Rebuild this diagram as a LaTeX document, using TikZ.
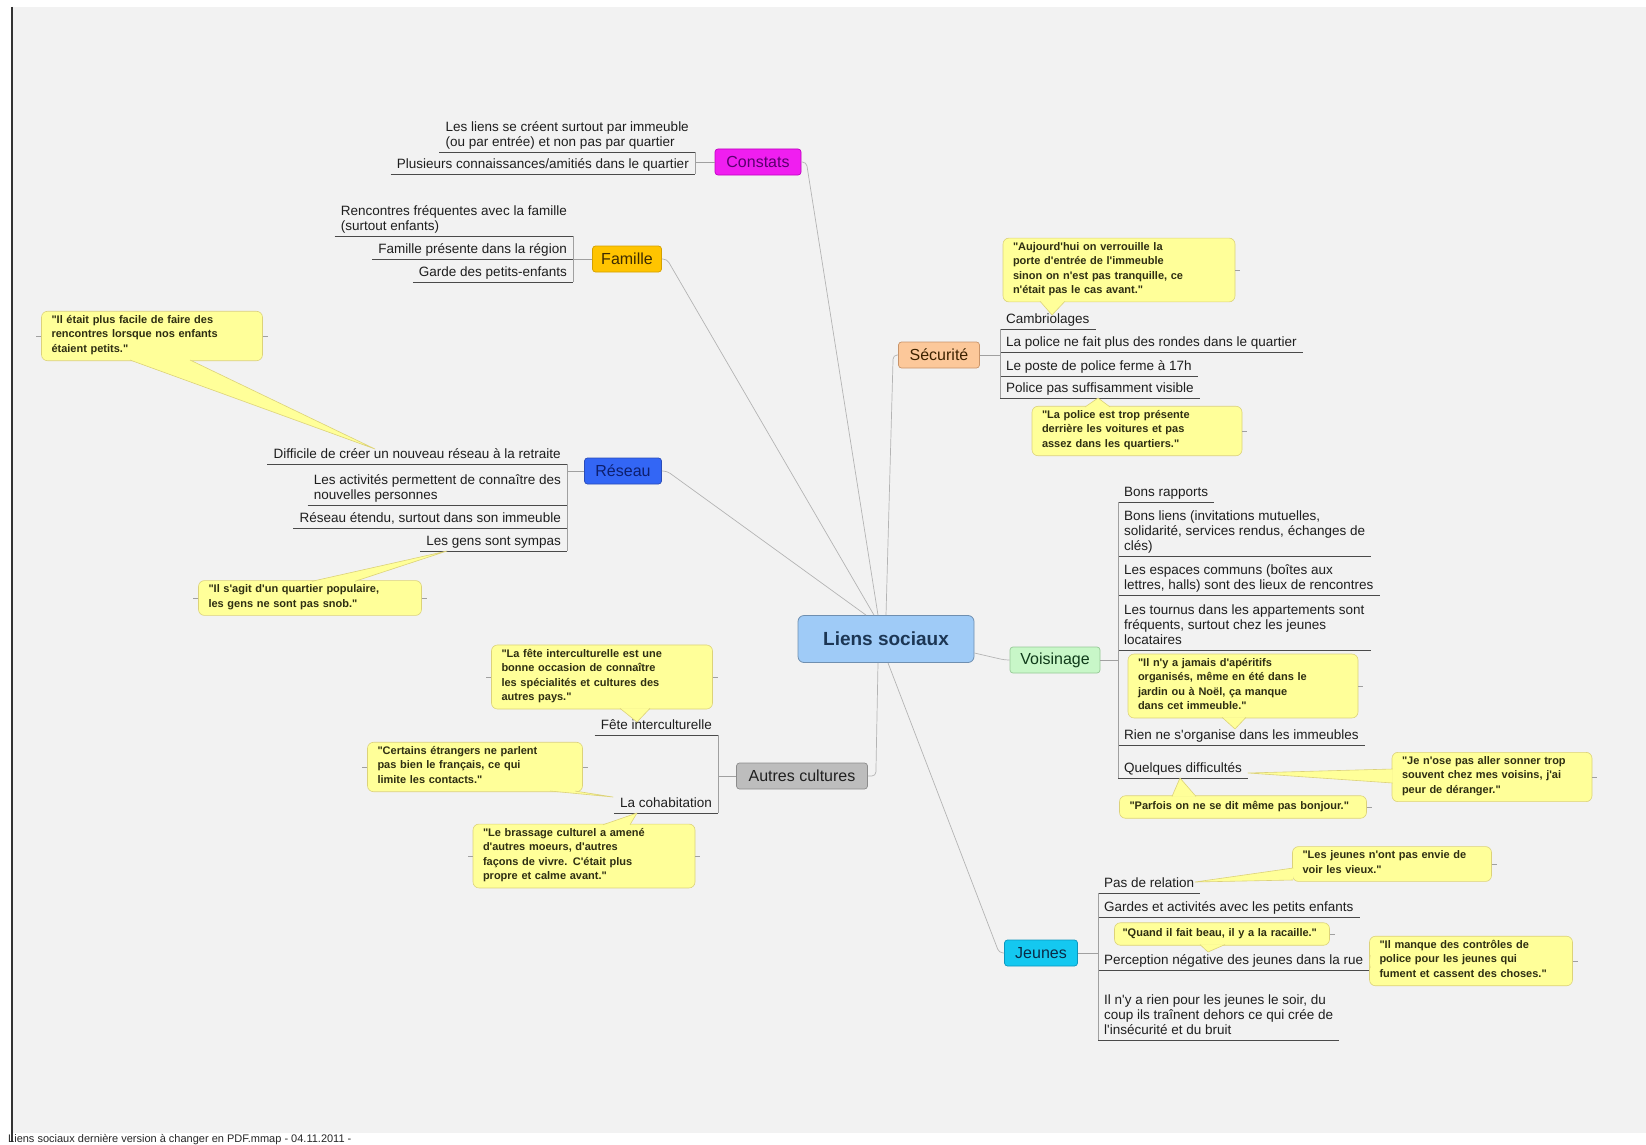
\documentclass[tikz,border=0pt]{standalone}
\usepackage{fontspec}
\setmainfont{Liberation Sans}[Ligatures={ResetAll,TeXOff}]
\usepackage{tikz}

\definecolor{bggrey}{HTML}{F2F2F2}
\definecolor{quotefill}{HTML}{FFFF99}
\definecolor{quoteline}{HTML}{DCD27A}
\definecolor{quotetext}{HTML}{2E2E12}
\definecolor{itemtext}{HTML}{1E1E1E}
\definecolor{ulinecol}{HTML}{4A4A4A}
\definecolor{bracketcol}{HTML}{A0A0A0}
\definecolor{branchcol}{HTML}{B4B4B4}
\definecolor{rootfill}{HTML}{9FCBF7}
\definecolor{rootline}{HTML}{6F8FB0}
\definecolor{roottext}{HTML}{1C3654}
\definecolor{constatsfill}{HTML}{F01EF0}
\definecolor{constatsline}{HTML}{C000C0}
\definecolor{constatstext}{HTML}{5A006E}
\definecolor{famillefill}{HTML}{FFC400}
\definecolor{familleline}{HTML}{D4A000}
\definecolor{familletext}{HTML}{3D2B00}
\definecolor{reseaufill}{HTML}{3366F5}
\definecolor{reseauline}{HTML}{2A4CB8}
\definecolor{reseautext}{HTML}{0D1F6E}
\definecolor{securitefill}{HTML}{FCC89A}
\definecolor{securiteline}{HTML}{C8946A}
\definecolor{securitetext}{HTML}{3D2200}
\definecolor{voisinagefill}{HTML}{C8F7C8}
\definecolor{voisinageline}{HTML}{96C896}
\definecolor{voisinagetext}{HTML}{0F3A1A}
\definecolor{autresfill}{HTML}{BDBDBD}
\definecolor{autresline}{HTML}{8C8C8C}
\definecolor{autrestext}{HTML}{202020}
\definecolor{jeunesfill}{HTML}{14C8F0}
\definecolor{jeunesline}{HTML}{0A96BE}
\definecolor{jeunestext}{HTML}{0A2A46}

\tikzset{
  topic/.style={draw, rounded corners=3pt, font=\fontsize{16}{18}\selectfont, inner xsep=6pt, minimum height=26pt, line width=0.7pt},
  litem/.style={anchor=south east, align=left, inner xsep=6pt, inner ysep=0.5pt, text=itemtext, font=\fontsize{13.5}{15}\selectfont, execute at end node=\strut},
  ritem/.style={litem, anchor=south west},
  saying/.style={draw=quoteline, fill=quotefill, rounded corners=6pt, align=left, inner xsep=10pt, inner ysep=4pt, text=quotetext, font=\fontsize{11}{14.5}\selectfont\bfseries, line width=0.6pt, execute at end node=\strut},
  wedge/.style={fill=quotefill, draw=quoteline, line width=0.6pt, line join=round},
  uline/.style={draw=ulinecol, line width=0.9pt},
  bracket/.style={draw=bracketcol, line width=0.7pt},
  branch/.style={draw=branchcol, line width=0.7pt, rounded corners=4pt},
  stub/.style={draw=bracketcol, line width=0.6pt},
}

\begin{document}
\begin{tikzpicture}[x=1pt,y=-1pt]
  \useasboundingbox (0,0) rectangle (1646,1145);
  \fill[white] (0,0) rectangle (1646,1145);
  \fill[bggrey] (11,7) rectangle (1646,1133);
  \draw[line width=2.5pt, black!80] (12,7) -- (12,1142);

  \node[draw=rootline, fill=rootfill, text=roottext, rounded corners=6pt, line width=0.8pt,
        minimum width=176pt, minimum height=47pt, font=\fontsize{19}{22}\selectfont\bfseries] (root) at (886,639) {Liens sociaux};

  \node[topic, fill=constatsfill, draw=constatsline, text=constatstext, minimum width=86pt] (t_c) at (758,162) {Constats};
  \node[topic, fill=famillefill, draw=familleline, text=familletext, minimum width=69pt] (t_f) at (627,259) {Famille};
  \node[topic, fill=reseaufill, draw=reseauline, text=reseautext, minimum width=77pt] (t_r) at (623,471) {Réseau};
  \node[topic, fill=securitefill, draw=securiteline, text=securitetext, minimum width=81pt] (t_s) at (939,355) {Sécurité};
  \node[topic, fill=voisinagefill, draw=voisinageline, text=voisinagetext, minimum width=90pt] (t_v) at (1055,660) {Voisinage};
  \node[topic, fill=autresfill, draw=autresline, text=autrestext, minimum width=131pt] (t_a) at (802,776) {Autres cultures};
  \node[topic, fill=jeunesfill, draw=jeunesline, text=jeunestext, minimum width=73pt] (t_j) at (1041,953) {Jeunes};

  \draw[branch] (t_c.east) -- ++(5,0) -- ([xshift=-8pt]root.north);
  \draw[branch] (t_f.east) -- ++(5,0) -- ([xshift=-12pt]root.north);
  \draw[branch] (t_r.east) -- ++(5,0) -- ([xshift=-20pt]root.north);
  \draw[branch] (t_s.west) -- ++(-5,0) -- (root.north);
  \draw[branch] ([yshift=-14pt]root.east) -- ([xshift=-5pt]t_v.west) -- (t_v.west);
  \draw[branch] (t_a.east) -- ++(8,0) -- ([xshift=-8pt]root.south);
  \draw[branch] ([xshift=2pt]root.south) -- ([xshift=-5pt]t_j.west) -- (t_j.west);

  \node[litem] (c_0) at (695,152) {Les liens se créent surtout par immeuble\\(ou par entrée) et non pas par quartier};
  \node[litem] (c_1) at (695,174) {Plusieurs connaissances/amitiés dans le quartier};

  \node[litem] (f_0) at (573,236) {Rencontres fréquentes avec la famille\\(surtout enfants)};
  \node[litem] (f_1) at (573,259) {Famille présente dans la région};
  \node[litem] (f_2) at (573,282) {Garde des petits-enfants};

  \node[litem] (r_0) at (567,464) {Difficile de créer un nouveau réseau à la retraite};
  \node[litem] (r_1) at (567,505) {Les activités permettent de connaître des\\nouvelles personnes};
  \node[litem] (r_2) at (567,528) {Réseau étendu, surtout dans son immeuble};
  \node[litem] (r_3) at (567,551) {Les gens sont sympas};

  \node[ritem] (s_0) at (1000,329) {Cambriolages};
  \node[ritem] (s_1) at (1000,352) {La police ne fait plus des rondes dans le quartier};
  \node[ritem] (s_2) at (1000,376) {Le poste de police ferme à 17h};
  \node[ritem] (s_3) at (1000,398) {Police pas suffisamment visible};

  \node[ritem] (v_0) at (1118,502) {Bons rapports};
  \node[ritem] (v_1) at (1118,556) {Bons liens (invitations mutuelles,\\solidarité, services rendus, échanges de\\clés)};
  \node[ritem] (v_2) at (1118,595) {Les espaces communs (boîtes aux\\lettres, halls) sont des lieux de rencontres};
  \node[ritem] (v_3) at (1118,650) {Les tournus dans les appartements sont\\fréquents, surtout chez les jeunes\\locataires};
  \node[ritem] (v_4) at (1118,745) {Rien ne s'organise dans les immeubles};
  \node[ritem] (v_5) at (1118,778) {Quelques difficultés};

  \node[ritem] (j_0) at (1098,893) {Pas de relation};
  \node[ritem] (j_1) at (1098,917) {Gardes et activités avec les petits enfants};
  \node[ritem] (j_2) at (1098,970) {Perception négative des jeunes dans la rue};
  \node[ritem] (j_3) at (1098,1040) {Il n'y a rien pour les jeunes le soir, du\\coup ils traînent dehors ce qui crée de\\l'insécurité et du bruit};

  \node[litem] (a_0) at (718,735) {Fête interculturelle};
  \node[litem] (a_1) at (718,813) {La cohabitation};

  \path[uline]
    (c_0.south west) edge (c_0.south east)
    (c_1.south west) edge (c_1.south east)
    (f_0.south west) edge (f_0.south east)
    (f_1.south west) edge (f_1.south east)
    (f_2.south west) edge (f_2.south east)
    (r_0.south west) edge (r_0.south east)
    (r_1.south west) edge (r_1.south east)
    (r_2.south west) edge (r_2.south east)
    (r_3.south west) edge (r_3.south east)
    (s_0.south west) edge (s_0.south east)
    (s_1.south west) edge (s_1.south east)
    (s_2.south west) edge (s_2.south east)
    (s_3.south west) edge (s_3.south east)
    (v_0.south west) edge (v_0.south east)
    (v_1.south west) edge (v_1.south east)
    (v_2.south west) edge (v_2.south east)
    (v_3.south west) edge (v_3.south east)
    (v_4.south west) edge (v_4.south east)
    (v_5.south west) edge (v_5.south east)
    (j_0.south west) edge (j_0.south east)
    (j_1.south west) edge (j_1.south east)
    (j_2.south west) edge (j_2.south east)
    (j_3.south west) edge (j_3.south east)
    (a_0.south west) edge (a_0.south east)
    (a_1.south west) edge (a_1.south east);

  \path[bracket]
    (c_0.south east) edge (c_1.south east)
    (t_c.west) edge (t_c.west -| c_0.south east)
    (f_0.south east) edge (f_2.south east)
    (t_f.west) edge (t_f.west -| f_0.south east)
    (r_0.south east) edge (r_3.south east)
    (t_r.west) edge (t_r.west -| r_0.south east)
    (s_0.south west) edge (s_3.south west)
    (t_s.east) edge (t_s.east -| s_0.south west)
    (v_0.south west) edge (v_5.south west)
    (t_v.east) edge (t_v.east -| v_0.south west)
    (j_0.south west) edge (j_3.south west)
    (t_j.east) edge (t_j.east -| j_0.south west)
    (a_0.south east) edge (a_1.south east)
    (t_a.west) edge (t_a.west -| a_0.south east);

  \node[saying, text width=201pt] (q_r0) at (152,336) {"Il était plus facile de faire des\\rencontres lorsque nos enfants\\étaient petits."};
  \node[saying, text width=203pt] (q_r1) at (310,598) {"Il s'agit d'un quartier populaire,\\les gens ne sont pas snob."};
  \node[saying, text width=212pt] (q_s0) at (1119,270) {"Aujourd'hui on verrouille la\\porte d'entrée de l'immeuble\\sinon on n'est pas tranquille, ce\\n'était pas le cas avant."};
  \node[saying, text width=190pt] (q_s1) at (1137,431) {"La police est trop présente\\derrière les voitures et pas\\assez dans les quartiers."};
  \node[saying, text width=210pt] (q_v0) at (1243,686) {"Il n'y a jamais d'apéritifs\\organisés, même en été dans le\\jardin ou à Noël, ça manque\\dans cet immeuble."};
  \node[saying, text width=180pt] (q_v1) at (1492,777) {"Je n'ose pas aller sonner trop\\souvent chez mes voisins, j'ai\\peur de déranger."};
  \node[saying, text width=227pt] (q_v2) at (1243,807) {"Parfois on ne se dit même pas bonjour."};
  \node[saying, text width=179pt] (q_j0) at (1392,864) {"Les jeunes n'ont pas envie de\\voir les vieux."};
  \node[saying, text width=209pt, inner xsep=3pt] (q_j1) at (1222,934) {\hspace*{5pt}"Quand il fait beau, il y a la racaille."};
  \node[saying, text width=183pt] (q_j2) at (1471,961) {"Il manque des contrôles de\\police pour les jeunes qui\\fument et cassent des choses."};
  \node[saying, text width=201pt] (q_a0) at (602,677) {"La fête interculturelle est une\\bonne occasion de connaître\\les spécialités et cultures des\\autres pays."};
  \node[saying, text width=195pt] (q_a1) at (475,767) {"Certains étrangers ne parlent\\pas bien le français, ce qui\\limite les contacts."};
  \node[saying, text width=202pt] (q_a2) at (584,856) {"Le brassage culturel a amené\\d'autres moeurs, d'autres\\façons de vivre. C'était plus\\propre et calme avant."};

  \path[wedge] ([xshift=-22pt,yshift=1pt]q_r0.south) -- ([xshift=-192pt,yshift=15pt]r_0.south east) -- ([xshift=38pt,yshift=1pt]q_r0.south);
  \path[wedge] ([xshift=2pt,yshift=-1pt]q_r1.north) -- ([xshift=-120pt]r_3.south east) -- ([xshift=45pt,yshift=-1pt]q_r1.north);
  \path[wedge] ([xshift=-79pt,yshift=1pt]q_s0.south) -- ([xshift=52pt,yshift=14pt]s_0.south west) -- ([xshift=-54pt,yshift=1pt]q_s0.south);
  \path[wedge] ([xshift=-52pt,yshift=-1pt]q_s1.north) -- ([xshift=98pt]s_3.south west) -- ([xshift=-27pt,yshift=-1pt]q_s1.north);
  \path[wedge] ([xshift=-21pt,yshift=1pt]q_v0.south) -- ([xshift=117pt,yshift=16pt]v_4.south west) -- ([xshift=3pt,yshift=1pt]q_v0.south);
  \path[wedge] ([xshift=1pt,yshift=8pt]q_v1.west) -- ([yshift=5pt]v_5.south east) -- ([xshift=1pt,yshift=-6pt]q_v1.west);
  \path[wedge] ([xshift=-71pt,yshift=-1pt]q_v2.north) -- ([xshift=62pt]v_5.south west) -- ([xshift=-47pt,yshift=-1pt]q_v2.north);
  \path[wedge] ([xshift=1pt,yshift=-4pt]q_j0.west) -- ([xshift=97pt,yshift=11pt]j_0.south west) -- ([xshift=1pt,yshift=-16pt]q_j0.west);
  \path[wedge] ([xshift=-22pt,yshift=1pt]q_j1.south) -- ([xshift=110pt,yshift=18pt]j_2.south west) -- ([xshift=3pt,yshift=1pt]q_j1.south);
  \path[wedge] ([xshift=1pt,yshift=6pt]q_j2.west) -- ([yshift=8pt]j_2.south east) -- ([xshift=1pt,yshift=-7pt]q_j2.west);
  \path[wedge] ([xshift=18pt,yshift=1pt]q_a0.south) -- ([xshift=-81pt,yshift=13pt]a_0.south east) -- ([xshift=48pt,yshift=1pt]q_a0.south);
  \path[wedge] ([xshift=75pt,yshift=1pt]q_a1.south) -- ([xshift=-105pt,yshift=16pt]a_1.south east) -- ([xshift=100pt,yshift=1pt]q_a1.south);
  \path[wedge] ([xshift=19pt,yshift=-1pt]q_a2.north) -- ([xshift=-81pt]a_1.south east) -- ([xshift=46pt,yshift=-1pt]q_a2.north);

  \draw[stub]
    (q_r0.west) -- ++(-5,0) (q_r0.east) -- ++(5,0)
    (q_r1.west) -- ++(-5,0) (q_r1.east) -- ++(5,0)
    (q_a0.west) -- ++(-5,0) (q_a0.east) -- ++(5,0)
    (q_a1.west) -- ++(-5,0) (q_a1.east) -- ++(5,0)
    (q_a2.west) -- ++(-5,0) (q_a2.east) -- ++(5,0)
    (q_s0.east) -- ++(5,0) (q_s1.east) -- ++(5,0)
    (q_v0.east) -- ++(5,0) (q_v1.east) -- ++(5,0) (q_v2.east) -- ++(5,0)
    (q_j0.east) -- ++(5,0) (q_j1.east) -- ++(5,0) (q_j2.east) -- ++(5,0);

  \node[anchor=base west, inner sep=0pt, text=black!85, font=\fontsize{11}{13}\selectfont] (foot) at (8,1142.5) {Liens sociaux dernière version à changer en PDF.mmap - 04.11.2011 -};
\end{tikzpicture}
\end{document}
